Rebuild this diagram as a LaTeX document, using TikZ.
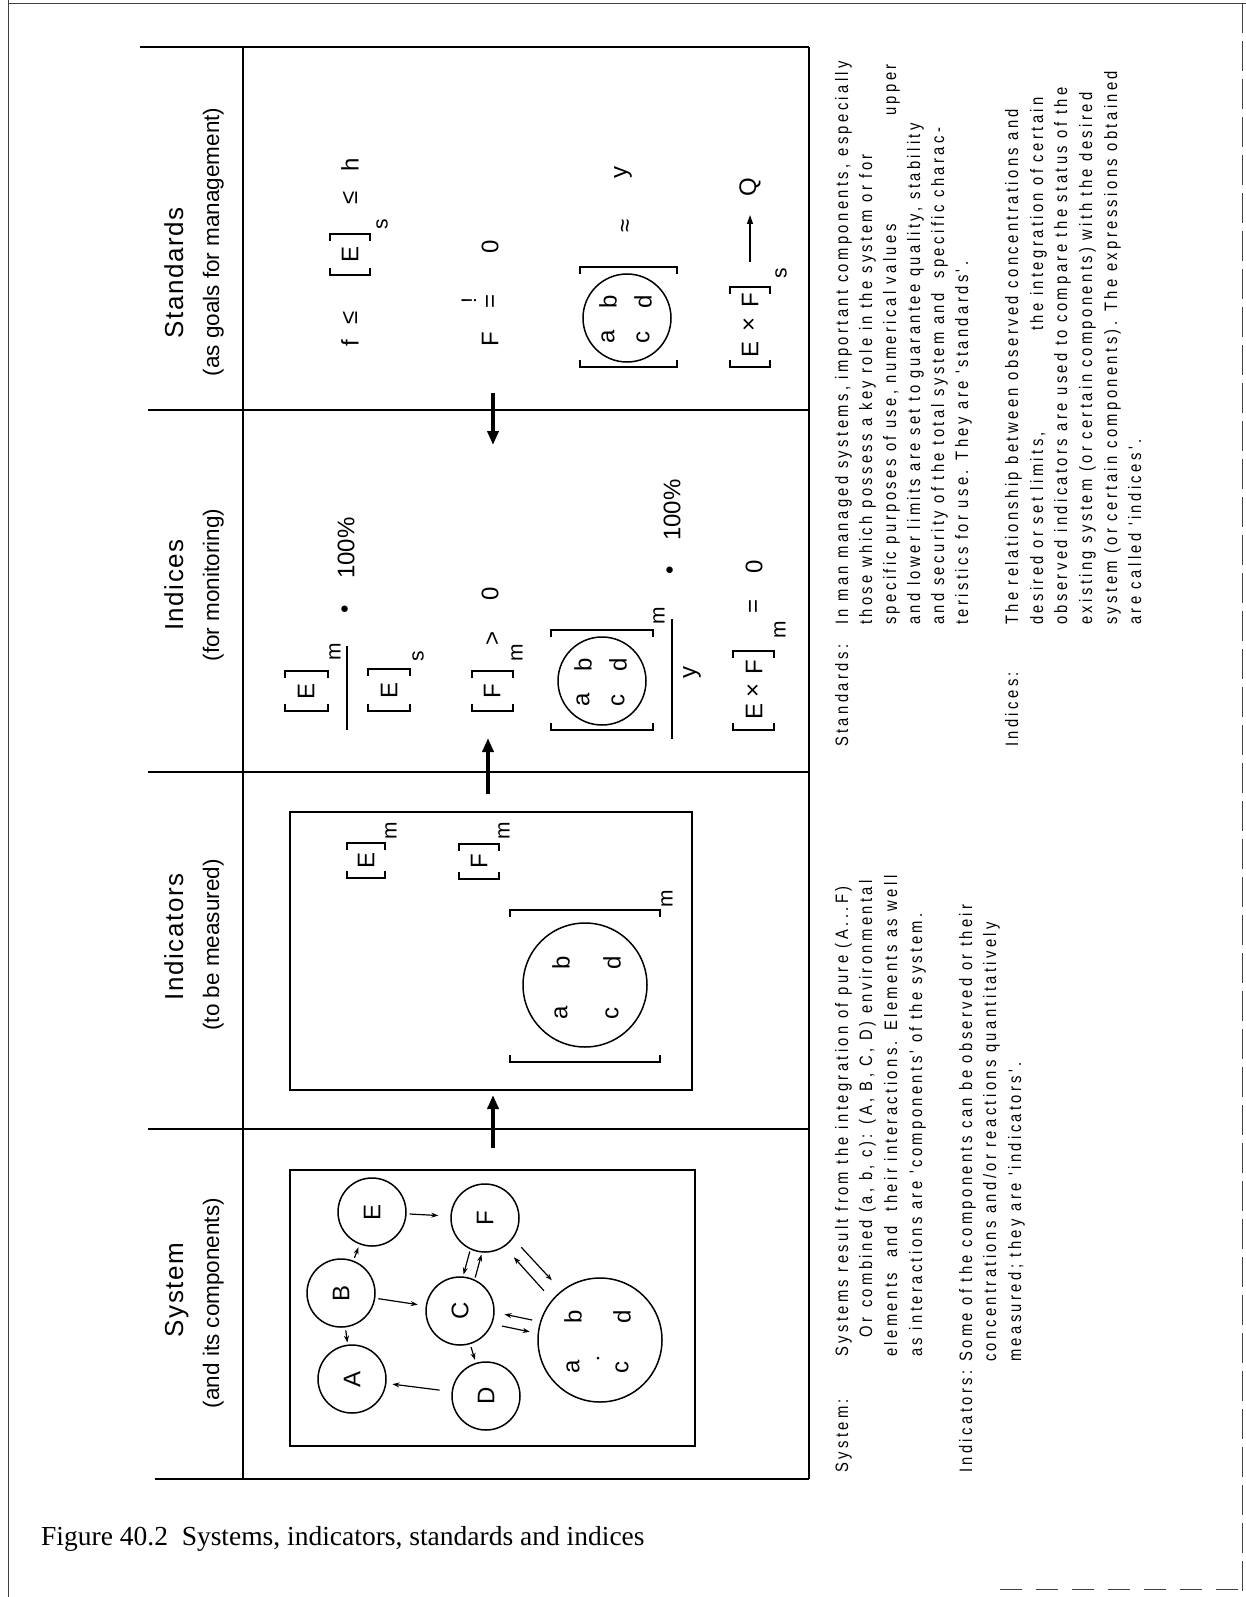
\documentclass[tikz,border=0pt]{standalone}
\usepackage{fontspec}
\setmainfont{Liberation Serif}
\newfontfamily\sansf{Liberation Sans}
\newfontfamily\hdfont[LetterSpace=6]{Liberation Sans}
\newfontfamily\typfont[FakeStretch=0.82,LetterSpace=19]{Liberation Sans}
\usetikzlibrary{arrows.meta,calc}
\newcommand\mybrk[4]{%
  \draw[brkline] (#1,#4-7) -- (#1,#4) -- (#2,#4) -- (#2,#4-7);
  \draw[brkline] (#1,#3+7) -- (#1,#3) -- (#2,#3) -- (#2,#3+7);}
\tikzset{
  tline/.style={line width=1.6pt},
  frameline/.style={line width=0.8pt, black!75},
  rt/.style={rotate=90, inner sep=0pt},
  fm/.style={rt, font=\sansf\fontsize{24}{28}\selectfont},
  fmsub/.style={rt, font=\sansf\fontsize{21}{24}\selectfont},
  hd/.style={rt, anchor=base, font=\hdfont\fontsize{26}{30}\selectfont},
  hsub/.style={rt, anchor=base, font=\sansf\fontsize{22.5}{26}\selectfont},
  tx/.style={rt, anchor=base west, font=\typfont\fontsize{18}{20}\selectfont},
  txe/.style={rt, anchor=base east, font=\typfont\fontsize{18}{20}\selectfont},
  brkline/.style={line width=1.4pt},
  comp/.style={circle, draw, line width=1.5pt, minimum size=68pt, inner sep=0pt},
  ell/.style={draw, line width=1.5pt},
  bigarr/.style={line width=3.6pt, -{Triangle[length=14pt,width=11pt]}},
  marr/.style={line width=1.3pt, -{Triangle[length=9pt,width=6pt]}},
  sarr/.style={line width=1.2pt, -{Stealth[length=7pt,width=5pt]}},
}
\newcommand\cl[1]{\rotatebox{90}{\sansf\fontsize{24}{28}\selectfont #1}}
\begin{document}
\begin{tikzpicture}[x=1pt,y=-1pt]
\useasboundingbox (0,0) rectangle (1246,1597);
% page frame
\draw[frameline] (8,0) -- (8,1597);
\draw[frameline] (8,3) -- (1246,3);
\draw[frameline, dash pattern=on 30pt off 8pt] (1242,3) -- (1242,1597);
\draw[frameline, dash pattern=on 22pt off 14pt] (1000,1589) -- (1246,1589);
% table
\draw[tline] (140,47) -- (809,47);
\draw[tline] (148,410) -- (809,410);
\draw[tline] (148,772) -- (809,772);
\draw[tline] (148,1129) -- (809,1129);
\draw[tline] (155,1479) -- (809,1479);
\draw[tline] (243,47) -- (243,1479);
\draw[tline] (809,47) -- (809,1479);
% headers
\node[hd] (hS1) at (183,273) {Standards};
\node[hsub] (hS2) at (219,242) {(as goals for management)};
\node[hd] (hI1) at (183,585) {Indices};
\node[hsub] (hI2) at (219,585) {(for monitoring)};
\node[hd] (hD1) at (183,937) {Indicators};
\node[hsub] (hD2) at (219,945) {(to be measured)};
\node[hd] (hY1) at (183,1290) {System};
\node[hsub] (hY2) at (219,1303) {(and its components)};
% ---------- Standards body
\node[fm] (s1f) at (350,343) {f};
\node[fm] (s1le) at (350,318) {≤};
\mybrk{330}{370}{234}{275}
\node[fm] (s1E) at (350,254) {E};
\node[fmsub] (s1s) at (382,224) {s};
\node[fm] (s1le2) at (350,198) {≤};
\node[fm] (s1h) at (350,165) {h};
\node[fm] (s2F) at (490,339) {F};
\node[fm] (s2eq) at (492,301) {=};
\node[fmsub] (s2ex) at (469,301) {!};
\node[fm] (s2z) at (490,247) {0};
\mybrk{580}{677}{267}{367}
\draw[ell] (627,318) circle[radius=44];
\node[fm] (s3a) at (608,337) {a};
\node[fm] (s3b) at (608,302) {b};
\node[fm] (s3c) at (643,337) {c};
\node[fm] (s3d) at (643,302) {d};
\node[fm] (s3ap) at (627,226) {≈};
\node[fm] (s3y) at (623,173) {y};
\mybrk{730}{770}{287}{367}
\node[fm] (s4E) at (750,349) {E};
\node[fm] (s4x) at (750,324) {×};
\node[fm] (s4F) at (750,300) {F};
\node[fmsub] (s4s) at (781,273) {s};
\coordinate (s4a) at (750,262);
\coordinate (s4b) at (750,215);
\draw[marr] (s4a) -- (s4b);
\node[fm] (s4Q) at (750,187) {Q};
% ---------- Indices body
\mybrk{285}{328}{671}{711}
\node[fm] (i1E) at (306,691) {E};
\node[fmsub] (i1m) at (335,652) {m};
\draw[brkline] (347,646) -- (347,730);
\mybrk{368}{410}{669}{711}
\node[fm] (i1E2) at (389,690) {E};
\node[fmsub] (i1s) at (418,656) {s};
\node[fm] (i1dot) at (347,609) {•};
\node[fm] (i1pc) at (346,548) {100\%};
\mybrk{472}{513}{671}{711}
\node[fm] (i2F) at (492,691) {F};
\node[fmsub] (i2m) at (517,653) {m};
\node[fm] (i2gt) at (493,638) {>};
\node[fm] (i2z) at (490,594) {0};
\mybrk{551}{653}{630}{730}
\draw[ell] (602,681) circle[radius=44];
\node[fm] (i3a) at (583,700) {a};
\node[fm] (i3b) at (583,665) {b};
\node[fm] (i3c) at (618,700) {c};
\node[fm] (i3d) at (618,665) {d};
\node[fmsub] (i3m) at (659,616) {m};
\draw[brkline] (672,619) -- (672,739);
\node[fm] (i3y) at (692,672) {y};
\node[fm] (i3dot) at (672,570) {•};
\node[fm] (i3pc) at (672,510) {100\%};
\mybrk{733}{774}{651}{730}
\node[fm] (i4E) at (754,711) {E};
\node[fm] (i4x) at (754,690) {×};
\node[fm] (i4F) at (754,667) {F};
\node[fmsub] (i4m) at (780,630) {m};
\node[fm] (i4eq) at (755,606) {=};
\node[fm] (i4z) at (754,567) {0};
% ---------- Indicators body
\draw[tline] (290,812) rectangle (692,1090);
\mybrk{347}{385}{843}{878}
\node[fm] (d1E) at (366,860) {E};
\node[fmsub] (d1m) at (391,831) {m};
\mybrk{459}{499}{844}{879}
\node[fm] (d2F) at (479,861) {F};
\node[fmsub] (d2m) at (504,831) {m};
\mybrk{510}{660}{910}{1062}
\draw[ell] (585,985) circle[radius=62];
\node[fm] (d3a) at (561,1013) {a};
\node[fm] (d3b) at (561,963) {b};
\node[fm] (d3c) at (612,1013) {c};
\node[fm] (d3d) at (612,963) {d};
\node[fmsub] (d3m) at (667,899) {m};
% ---------- System body
\draw[tline] (290,1170) rectangle (695,1446);
\node[comp] (E) at (372,1212) {\cl{E}};
\node[comp] (F) at (485,1218) {\cl{F}};
\node[comp] (B) at (341,1293) {\cl{B}};
\node[comp] (C) at (460,1311) {\cl{C}};
\node[comp] (A) at (352,1379) {\cl{A}};
\node[comp] (D) at (486,1396) {\cl{D}};
\node[comp, minimum size=124pt] (G) at (600,1340) {};
\node[fm] (ga) at (573,1367) {a};
\node[fm] (gb) at (573,1317) {b};
\node[fm] (gc) at (622,1367) {c};
\node[fm] (gd) at (622,1317) {d};
\fill (598,1358) circle[radius=1.5];
\draw[sarr, shorten <=3pt, shorten >=12pt] (E) -- (F);
\draw[sarr, shorten <=3pt, shorten >=3pt] (B) -- (E);
\draw[sarr, shorten <=3pt, shorten >=2pt] (B) -- (A);
\draw[sarr, shorten <=3pt, shorten >=8pt] (B) -- (C);
\draw[sarr, shorten <=3pt, shorten >=3pt] (C) -- (D);
\draw[sarr, shorten <=12pt, shorten >=6pt] (D) -- (A);
\draw[sarr, shorten <=2pt, shorten >=2pt] (F.245) -- (C.85);
\draw[sarr, shorten <=2pt, shorten >=2pt] (C.65) -- (F.265);
\draw[sarr, shorten <=12pt, shorten >=14pt] (F.324) -- (G.128);
\draw[sarr, shorten <=12pt, shorten >=14pt] (G.140) -- (F.304);
\draw[sarr, shorten <=8pt, shorten >=10pt] (G.163) -- (C.358);
\draw[sarr, shorten <=10pt, shorten >=8pt] (C.338) -- (G.174);
% big flow arrows
\coordinate (a1s) at (493,393);
\coordinate (a1e) at (493,445);
\coordinate (a2s) at (488,794);
\coordinate (a2e) at (488,738);
\coordinate (a3s) at (493,1148);
\coordinate (a3e) at (493,1095);
\draw[bigarr] (a1s) -- (a1e);
\draw[bigarr] (a2s) -- (a2e);
\draw[bigarr] (a3s) -- (a3e);
% ---------- explanatory texts
\node[tx] (tS0) at (848,747) {Standards:};
\node[tx] (tS1) at (848,625) {In man managed systems, important components, especially};
\node[tx] (tS2) at (872,625) {those which possess a key role in the system or for};
\node[tx] (tS3) at (896,625) {specific purposes of use, numerical values};
\node[txe] (tS3b) at (896,64) {upper};
\node[tx] (tS4) at (920,625) {and lower limits are set to guarantee quality, stability};
\node[tx] (tS5) at (944,625) {and security of the total system and \ specific charac-};
\node[tx] (tS6) at (968,625) {teristics for use. They are 'standards'.};
\node[tx] (tI0) at (1018,747) {Indices:};
\node[tx] (tI1) at (1018,625) {The relationship between observed concentrations and};
\node[tx] (tI2) at (1043,625) {desired or set limits,};
\node[txe] (tI2b) at (1043,97) {the integration of certain};
\node[tx] (tI3) at (1067,625) {observed indicators are used to compare the status of the};
\node[tx] (tI4) at (1092,625) {existing system (or certain components) with the desired};
\node[tx] (tI5) at (1117,625) {system (or certain components). The expressions obtained};
\node[tx] (tI6) at (1141,625) {are called 'indices'.};
\node[tx] (tY0) at (848,1473) {System:};
\node[tx] (tY1) at (848,1357) {Systems result from the integration of pure (A...F)};
\node[tx] (tY2) at (872,1338) {Or};
\node[tx] (tY2b) at (872,1308) {combined (a, b, c): (A, B, C, D) environmental};
\node[tx] (tY3) at (897,1357) {elements \ and \ their interactions. Elements as well};
\node[tx] (tY4) at (922,1357) {as interactions are 'components' of the system.};
\node[tx] (tN0) at (972,1473) {Indicators:};
\node[tx] (tN1) at (972,1362) {Some of the components can be observed or their};
\node[tx] (tN2) at (996,1362) {concentrations and/or reactions quantitatively};
\node[tx] (tN3) at (1021,1362) {measured; they are 'indicators'.};
% caption
\node[anchor=base west, inner sep=0pt, font=\fontsize{27.5}{32}\selectfont] (cap) at (41,1545) {Figure 40.2\ \ Systems, indicators, standards and indices};
\end{tikzpicture}
\end{document}
